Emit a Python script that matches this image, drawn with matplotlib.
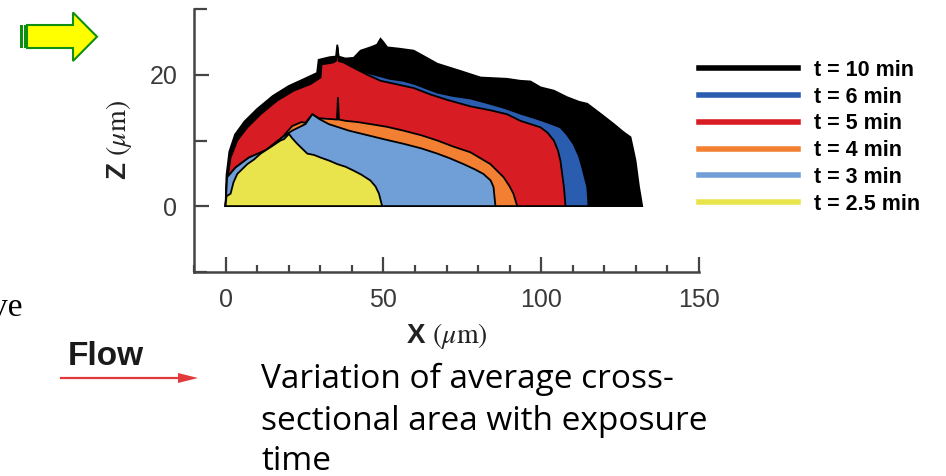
import matplotlib.pyplot as plt
from matplotlib.lines import Line2D
from matplotlib.patches import Polygon, Rectangle

# deposit height profiles Z(X) in micrometres, one per exposure time
x_10 = [0, 0.3, 1.2, 3, 6, 10, 15, 20, 25, 29, 29.5, 33, 35, 35.4, 35.8, 38, 40.6, 42.8, 45.9, 48, 49.1,
        50, 51.2, 55, 59.6, 63, 67.1, 74.4, 80.8, 89.2, 93.4, 96.6, 99.8, 104, 108.2, 112, 114.6, 119,
        123, 126, 128.3, 129.2, 129.9, 131, 131.5, 132]
z_10 = [0, 4.7, 8.3, 10.9, 12.9, 14.8, 16.8, 18.3, 19.4, 20.3, 22.3, 22.7, 22.8, 24.6, 22.8, 22.5,
        22.6, 23.7, 24.2, 24.6, 25.5, 25.0, 24.2, 24.0, 23.7, 22.8, 21.7, 20.6, 19.6, 19.4, 19.1, 19.0,
        18.1, 17.6, 16.6, 15.9, 15.6, 14.0, 12.5, 11.3, 10.5, 8.5, 6.9, 2.9, 1.5, 0]

x_6 = [0, 0.5, 1.6, 3.7, 6.9, 11, 16, 22, 27, 30, 34, 37, 40, 45, 49, 52, 56.4, 60, 67.1, 72, 77.6,
       83, 88.1, 93.4, 98.7, 102.9, 106.1, 108, 110.2, 112, 113, 114.6, 115]
z_6 = [0, 3.8, 7.2, 9.8, 11.8, 13.8, 15.8, 17.4, 18.4, 19.4, 21.0, 21.0, 20.8, 20.3, 19.8, 19.4,
       19.1, 18.6, 17.3, 16.8, 16.4, 15.7, 15.0, 14.1, 13.3, 12.6, 12.0, 11.0, 9.5, 7.6, 5.9, 2.9, 0]

x_5 = [0, 0.5, 1.6, 3.7, 6.9, 11.1, 16.4, 21.6, 26.9, 30.1, 30.4, 33, 34.2, 35.1, 35.5, 35.9, 37.4,
       40.5, 45, 49.1, 53, 59.6, 65, 70.2, 77.6, 84, 89.2, 93.4, 99.8, 102, 104, 105.3, 106.1, 107.2,
       107.7]
z_5 = [0, 3.9, 7.4, 10.0, 12.0, 14.0, 16.1, 17.6, 18.6, 19.6, 21.6, 21.8, 21.9, 22.2, 24.2, 22.1,
       21.9, 21.1, 20.0, 19.1, 18.7, 18.0, 17.0, 16.2, 15.2, 14.6, 14.0, 13.0, 12.0, 11.2, 10.0, 8.5,
       6.9, 2.9, 0]

x_4 = [0, 0.5, 3.2, 7.4, 12.7, 18, 21.1, 24, 25.3, 27.5, 29.6, 32.2, 35.3, 35.6, 35.9, 38, 42,
       45.9, 51, 56.4, 62, 67.1, 72, 77.6, 83.9, 86, 88.1, 90, 91.2, 92.4]
z_4 = [0, 4.4, 5.9, 7.4, 8.5, 10.5, 12.2, 12.8, 12.7, 14.0, 13.4, 13.3, 13.2, 16.6, 13.2, 13.0,
       12.8, 12.5, 12.1, 11.5, 10.8, 10.0, 9.1, 8.2, 6.4, 5.4, 4.4, 3.0, 1.9, 0]

x_3 = [0, 0.5, 3.2, 7.4, 12.7, 18, 21.1, 25.3, 27.5, 29.6, 32.7, 39.1, 45.9, 51, 56.4, 62, 67.1,
       71, 75.4, 79, 81.7, 84, 84.9, 85.5]
z_3 = [0, 4.4, 5.9, 7.4, 8.5, 10.5, 11.5, 12.5, 14.0, 13.3, 12.5, 11.5, 10.7, 10.1, 9.5, 8.8, 8.0,
       7.3, 6.4, 5.6, 4.9, 3.9, 2.9, 0]

x_25 = [0, 0.3, 1.6, 2.5, 3.7, 6.9, 9, 11.1, 14.3, 17.4, 18.5, 20.1, 21, 22.7, 25.9, 28, 30.1, 33,
        35.4, 38, 40.6, 43, 45.9, 47.5, 48.6, 49.6]
z_25 = [0, 1.5, 1.9, 3.6, 4.9, 6.4, 7.1, 8.0, 9.0, 10.0, 10.2, 11.0, 10.4, 9.5, 8.0, 7.8, 7.4, 6.9,
        6.4, 6.0, 5.4, 4.8, 3.9, 3.0, 1.9, 0]

profiles = [x_10, x_6, x_5, x_4, x_3, x_25]
heights = [z_10, z_6, z_5, z_4, z_3, z_25]
labels = ["t = 10 min", "t = 6 min", "t = 5 min", "t = 4 min", "t = 3 min", "t = 2.5 min"]
colors = ["#000000", "#2a5cb0", "#d81c24", "#f38032", "#6f9fd6", "#e9e34c"]

W, H = 946, 476
fig = plt.figure(figsize=(W / 100, H / 100), dpi=100)
plt.rcParams["mathtext.fontset"] = "stix"


def fx(px):
    return px / W


def fy(py):
    return 1 - py / H


ax = fig.add_axes([fx(194), fy(271.7), fx(699) - fx(194), fy(9.3) - fy(271.7)])

# later times are bigger, so paint them first
for xs, zs, c in zip(profiles, heights, colors):
    ax.fill(xs, zs, facecolor=c, edgecolor="black", linewidth=1.3, joinstyle="miter")

ax.set_xlim(-10, 150)
ax.set_ylim(-10, 30)
ax.set_xticks([0, 50, 100, 150])
ax.set_xticks(range(-10, 151, 10), minor=True)
ax.set_yticks([0, 20])
ax.set_yticks([-10, 10, 30], minor=True)
for s in ["top", "right"]:
    ax.spines[s].set_visible(False)
for s in ["left", "bottom"]:
    ax.spines[s].set_color("#444444")
    ax.spines[s].set_linewidth(1.8)
ax.tick_params(which="both", direction="in", color="#444444", width=1.6,
               labelsize=18, labelcolor="#3a3a3a")
ax.tick_params(which="major", length=11, pad=12)
ax.tick_params(which="minor", length=5)
ax.tick_params(axis="y", which="minor", length=9)
for lab in ax.get_xticklabels() + ax.get_yticklabels():
    lab.set_family("Liberation Sans")

ax.set_xlabel(r"X $(\mu\mathrm{m})$", fontsize=20, fontweight="bold",
              family="Liberation Sans", color="#222222", labelpad=6)
ax.set_ylabel(r"Z $(\mu\mathrm{m})$", fontsize=20, fontweight="bold",
              family="Liberation Sans", color="#222222", labelpad=11)

handles = [Line2D([], [], color=c, linewidth=4) for c in colors]
ax.legend(handles, labels, loc="upper left", bbox_to_anchor=(fx(688), fy(49)),
          bbox_transform=fig.transFigure, frameon=False, handlelength=4.6,
          handletextpad=0.75, labelspacing=0.27, borderpad=0,
          prop={"family": "Liberation Sans", "weight": "bold", "size": 15.5})

# yellow block arrow, top left
arrow = Polygon([(fx(27), fy(25)), (fx(73), fy(25)), (fx(73), fy(12.5)), (fx(97), fy(36.7)),
                 (fx(73), fy(61)), (fx(73), fy(48)), (fx(27), fy(48))],
                closed=True, transform=fig.transFigure, facecolor="#ffff00",
                edgecolor="#0f8f0f", linewidth=1.5)
fig.patches.append(arrow)
for x0 in (20, 24):
    fig.patches.append(Rectangle((fx(x0), fy(48)), fx(3), fy(25) - fy(48),
                                 transform=fig.transFigure, facecolor="#0f8f0f",
                                 edgecolor="none"))

fig.text(fx(-9), fy(316), "ve", fontsize=24, family="Liberation Serif", color="black")
fig.text(fx(68), fy(365), "Flow", fontsize=24, fontweight="bold",
         family="Liberation Sans", color="#1a1a1a")
fig.add_artist(plt.Line2D([fx(61), fx(185)], [fy(378), fy(378)], color="#e23a3a", linewidth=1.6))
fig.patches.append(Polygon([(fx(178), fy(373)), (fx(198), fy(378)), (fx(178), fy(383))],
                           closed=True, transform=fig.transFigure, facecolor="#e23a3a",
                           edgecolor="none"))

# the baseline given here is that of the last line
fig.text(fx(261), fy(470.5), "Variation of average cross-\nsectional area with exposure\ntime",
         fontsize=24, family="Open Sans", color="black", va="baseline", linespacing=1.32)

fig.savefig("out.png", dpi=100)
